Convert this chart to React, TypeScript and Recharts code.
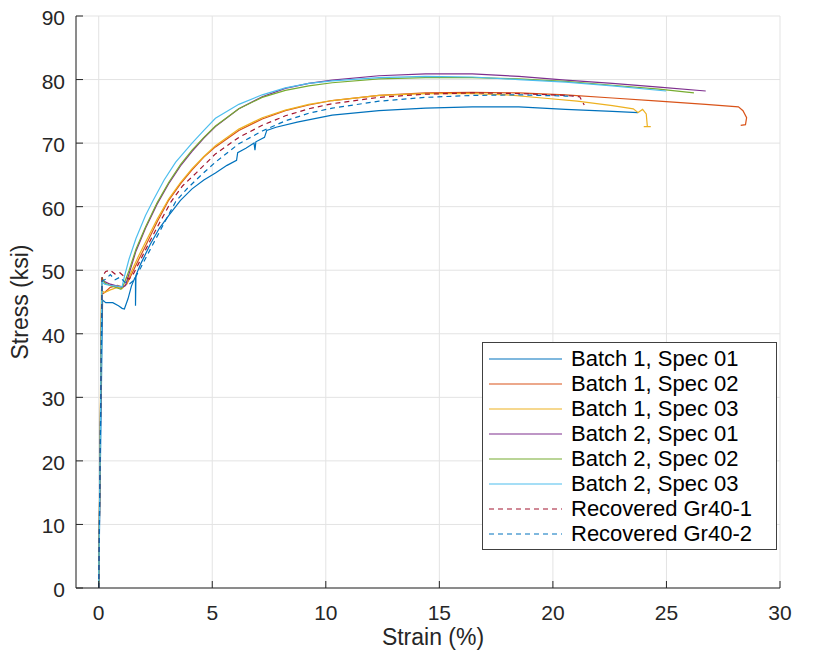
import React from "react";
import { LineChart, Line, XAxis, YAxis, CartesianGrid } from "recharts";

const FONT = '"Liberation Sans", Arial, Helvetica, sans-serif';
const AX = "#262626";

// ---- series meta ----
const seriesNames = [
  "Batch 1, Spec 01",
  "Batch 1, Spec 02",
  "Batch 1, Spec 03",
  "Batch 2, Spec 01",
  "Batch 2, Spec 02",
  "Batch 2, Spec 03",
  "Recovered Gr40-1",
  "Recovered Gr40-2",
];
const seriesColors = ["#0072BD", "#D95319", "#EDB120", "#7E2F8E", "#77AC30", "#4DBEEE", "#A2142F", "#0072BD"];
const seriesDash = ["", "", "", "", "", "", "5 4", "5 4"];

// ---- data (strain %, stress ksi) ----
const b1s01Strain = [0, 0.17, 0.31, 0.62, 0.87, 1.03, 1.13, 1.29, 1.44, 1.59, 1.62, 1.62, 1.64, 1.85, 2.26, 2.67, 3.08, 3.6, 4.11, 4.63, 5.14, 5.65, 6.07, 6.12, 6.48, 6.84, 6.88, 6.92, 7.3, 7.4, 7.81, 8.74, 10.28, 12.34, 14.39, 16.45, 18.5, 20.56, 22.62, 23.75];
const b1s01Stress = [0, 45.3, 44.9, 44.9, 44.4, 44.0, 43.9, 45.5, 47.5, 48.8, 48.9, 44.4, 49.2, 51.0, 54.0, 56.6, 58.6, 61.0, 62.8, 64.2, 65.3, 66.5, 67.3, 68.5, 69.2, 70.0, 68.9, 70.2, 70.9, 72.0, 72.5, 73.3, 74.4, 75.1, 75.5, 75.7, 75.7, 75.3, 75.0, 74.8];

const b1s02Strain = [0, 0.13, 0.26, 0.51, 0.82, 1.03, 1.23, 1.44, 1.75, 2.06, 2.57, 3.08, 3.6, 4.11, 4.63, 5.14, 6.17, 7.2, 8.22, 9.25, 10.28, 12.34, 14.39, 16.45, 18.5, 20.56, 22.62, 24.67, 26.73, 28.17, 28.37, 28.53, 28.48, 28.27];
const b1s02Stress = [0, 46.2, 46.5, 47.3, 47.6, 47.4, 47.8, 49.3, 51.6, 53.8, 57.6, 61.0, 63.6, 65.8, 67.8, 69.4, 72.0, 73.8, 75.1, 76.0, 76.7, 77.5, 77.9, 78.0, 77.9, 77.6, 77.1, 76.6, 76.1, 75.7, 75.1, 74.0, 72.9, 72.8];

const b1s03Strain = [0, 0.12, 0.26, 0.51, 0.82, 1.03, 1.23, 1.44, 1.75, 2.06, 2.57, 3.08, 3.6, 4.11, 4.63, 5.14, 6.17, 7.2, 8.22, 9.25, 10.28, 12.34, 14.39, 16.45, 17.99, 19.53, 21.07, 22.62, 23.54, 23.75, 23.95, 24.11, 24.16, 24.0, 24.31];
const b1s03Stress = [0, 46.8, 46.5, 46.9, 47.3, 47.1, 47.9, 49.8, 52.2, 54.4, 58.0, 61.2, 63.8, 66.0, 67.9, 69.6, 72.2, 74.0, 75.2, 76.1, 76.7, 77.5, 77.8, 77.8, 77.6, 77.1, 76.6, 75.9, 75.4, 74.8, 75.3, 74.6, 72.6, 72.6, 72.6];

const b2s01Strain = [0, 0.14, 0.26, 0.51, 0.82, 1.03, 1.18, 1.34, 1.64, 2.06, 2.57, 3.08, 3.6, 4.11, 4.63, 5.14, 6.17, 7.2, 8.22, 9.25, 10.28, 12.34, 14.39, 16.45, 18.5, 20.56, 22.62, 24.67, 26.73];
const b2s01Stress = [0, 48.6, 48.2, 47.8, 47.5, 47.3, 47.6, 49.5, 53.0, 56.6, 60.4, 63.6, 66.4, 68.7, 70.8, 72.6, 75.4, 77.3, 78.6, 79.4, 79.9, 80.6, 80.9, 80.9, 80.5, 79.9, 79.4, 78.8, 78.2];

const b2s02Strain = [0, 0.14, 0.26, 0.51, 0.82, 0.98, 1.13, 1.34, 1.64, 2.06, 2.57, 3.08, 3.6, 4.11, 4.63, 5.14, 6.17, 7.2, 8.22, 9.25, 10.28, 12.34, 14.39, 16.45, 18.5, 20.56, 22.62, 24.67, 26.21];
const b2s02Stress = [0, 48.9, 48.0, 47.6, 47.2, 47.0, 48.0, 50.0, 53.3, 56.8, 60.6, 63.8, 66.6, 68.9, 70.9, 72.7, 75.4, 77.2, 78.3, 79.0, 79.5, 80.1, 80.3, 80.3, 80.1, 79.7, 79.1, 78.5, 77.9];

const b2s03Strain = [0, 0.14, 0.26, 0.51, 0.82, 1.03, 1.13, 1.34, 1.64, 2.06, 2.4, 2.88, 3.39, 4.11, 4.63, 5.14, 6.17, 7.2, 8.22, 9.25, 10.28, 12.34, 14.39, 16.45, 18.5, 20.56, 22.62, 24.98];
const b2s03Stress = [0, 48.2, 47.8, 47.6, 47.5, 47.4, 49.0, 51.8, 55.0, 58.6, 61.0, 64.2, 67.0, 70.0, 72.0, 73.9, 76.1, 77.6, 78.7, 79.4, 79.8, 80.3, 80.5, 80.4, 80.0, 79.6, 79.0, 78.2];

const rec1Strain = [0, 0.15, 0.31, 0.51, 0.72, 0.93, 1.13, 1.34, 1.54, 1.85, 2.26, 2.67, 3.19, 3.7, 4.32, 5.14, 6.17, 7.2, 8.22, 9.25, 10.28, 12.34, 14.39, 16.45, 18.5, 20.56, 21.18, 21.38];
const rec1Stress = [0, 49.0, 49.8, 50.0, 49.4, 49.6, 49.0, 48.6, 49.5, 51.7, 54.6, 57.4, 60.8, 63.3, 65.4, 68.3, 70.9, 72.8, 74.3, 75.4, 76.2, 77.2, 77.7, 77.9, 77.8, 77.5, 77.3, 76.0];

const rec2Strain = [0, 0.15, 0.31, 0.51, 0.72, 0.93, 1.13, 1.34, 1.54, 1.85, 2.26, 2.67, 3.39, 3.91, 4.52, 5.14, 6.17, 7.2, 8.22, 9.25, 10.28, 12.34, 14.39, 16.45, 18.5, 20.56, 20.87];
const rec2Stress = [0, 48.3, 48.6, 49.3, 48.5, 48.9, 48.2, 47.8, 48.4, 50.4, 53.2, 56.0, 60.8, 62.9, 65.0, 67.0, 69.9, 71.9, 73.5, 74.7, 75.5, 76.6, 77.2, 77.5, 77.6, 77.4, 77.4];

const xTicks = [0, 5, 10, 15, 20, 25, 30];
const yTicks = [0, 10, 20, 30, 40, 50, 60, 70, 80, 90];

const toPoints = (xs: number[], ys: number[]) => xs.map((x, i) => ({ x, y: ys[i] }));
const seriesData = [
  toPoints(b1s01Strain, b1s01Stress),
  toPoints(b1s02Strain, b1s02Stress),
  toPoints(b1s03Strain, b1s03Stress),
  toPoints(b2s01Strain, b2s01Stress),
  toPoints(b2s02Strain, b2s02Stress),
  toPoints(b2s03Strain, b2s03Stress),
  toPoints(rec1Strain, rec1Stress),
  toPoints(rec2Strain, rec2Stress),
];

const W = 805;
const H = 658;

const XTick = (props: any) => {
  const { x, y, payload } = props;
  return (
    <g>
      <line x1={x} x2={x} y1={y} y2={y - 7} stroke={AX} strokeWidth={1} />
      <text x={x} y={y + 32} textAnchor="middle" fontSize={21} fill={AX} fontFamily={FONT}>
        {payload.value}
      </text>
    </g>
  );
};

const YTick = (props: any) => {
  const { x, y, payload } = props;
  return (
    <g>
      <line x1={x} x2={x + 7} y1={y} y2={y} stroke={AX} strokeWidth={1} />
      <text x={x - 11} y={y + 9} textAnchor="end" fontSize={21} fill={AX} fontFamily={FONT}>
        {payload.value}
      </text>
    </g>
  );
};

const XTitle = (p: any) => {
  const vb = p.viewBox;
  return (
    <text x={vb.x + vb.width / 2 + 5} y={vb.y + 57} textAnchor="middle" fontSize={23} fill={AX} fontFamily={FONT}>
      Strain (%)
    </text>
  );
};

const YTitle = (p: any) => {
  const vb = p.viewBox;
  const cx = 11.5;
  const cy = vb.y + vb.height / 2;
  return (
    <text
      x={cx}
      y={cy}
      textAnchor="middle"
      dominantBaseline="central"
      transform={`rotate(-90, ${cx}, ${cy})`}
      fontSize={23}
      fill={AX}
      fontFamily={FONT}
    >
      Stress (ksi)
    </text>
  );
};

export default function App() {
  return (
    <div style={{ position: "relative", width: W, height: H, marginTop: -8, background: "#fff" }}>
      <LineChart width={W} height={H} margin={{ top: 16, right: 33, left: 0, bottom: 0 }}>
        <CartesianGrid stroke="#e3e3e3" strokeWidth={1} />
        <XAxis
          type="number"
          dataKey="x"
          domain={[-1, 30]}
          ticks={xTicks}
          interval={0}
          allowDataOverflow
          height={70}
          tickSize={0}
          tickMargin={0}
          tickLine={false}
          axisLine={{ stroke: AX, strokeWidth: 1 }}
          tick={XTick}
          label={{ content: XTitle }}
        />
        <YAxis
          type="number"
          dataKey="y"
          domain={[0, 90]}
          ticks={yTicks}
          interval={0}
          allowDataOverflow
          width={68}
          tickSize={0}
          tickMargin={0}
          tickLine={false}
          axisLine={{ stroke: AX, strokeWidth: 1 }}
          tick={YTick}
          label={{ content: YTitle }}
        />
        {seriesData.map((d, i) => (
          <Line
            key={seriesNames[i]}
            data={d}
            dataKey="y"
            name={seriesNames[i]}
            type="linear"
            stroke={seriesColors[i]}
            strokeWidth={1.2}
            strokeDasharray={seriesDash[i] || undefined}
            dot={false}
            activeDot={false}
            isAnimationActive={false}
          />
        ))}
      </LineChart>
      <div
        style={{
          position: "absolute",
          left: 474,
          top: 342,
          width: 295,
          height: 208,
          border: "1px solid #404040",
          background: "#fff",
          boxSizing: "border-box",
          paddingTop: 3,
        }}
      >
        {seriesNames.map((n, i) => (
          <div key={n} style={{ height: 25.1, display: "flex", alignItems: "center" }}>
            <svg width={82} height={10} style={{ marginLeft: 6, flex: "none" }}>
              <line
                x1={0}
                x2={73}
                y1={5}
                y2={5}
                stroke={seriesColors[i]}
                strokeWidth={1.2}
                strokeDasharray={seriesDash[i] || undefined}
              />
            </svg>
            <span style={{ fontSize: 22, fontFamily: FONT, color: "#000", whiteSpace: "nowrap", lineHeight: 1 }}>{n}</span>
          </div>
        ))}
      </div>
    </div>
  );
}
